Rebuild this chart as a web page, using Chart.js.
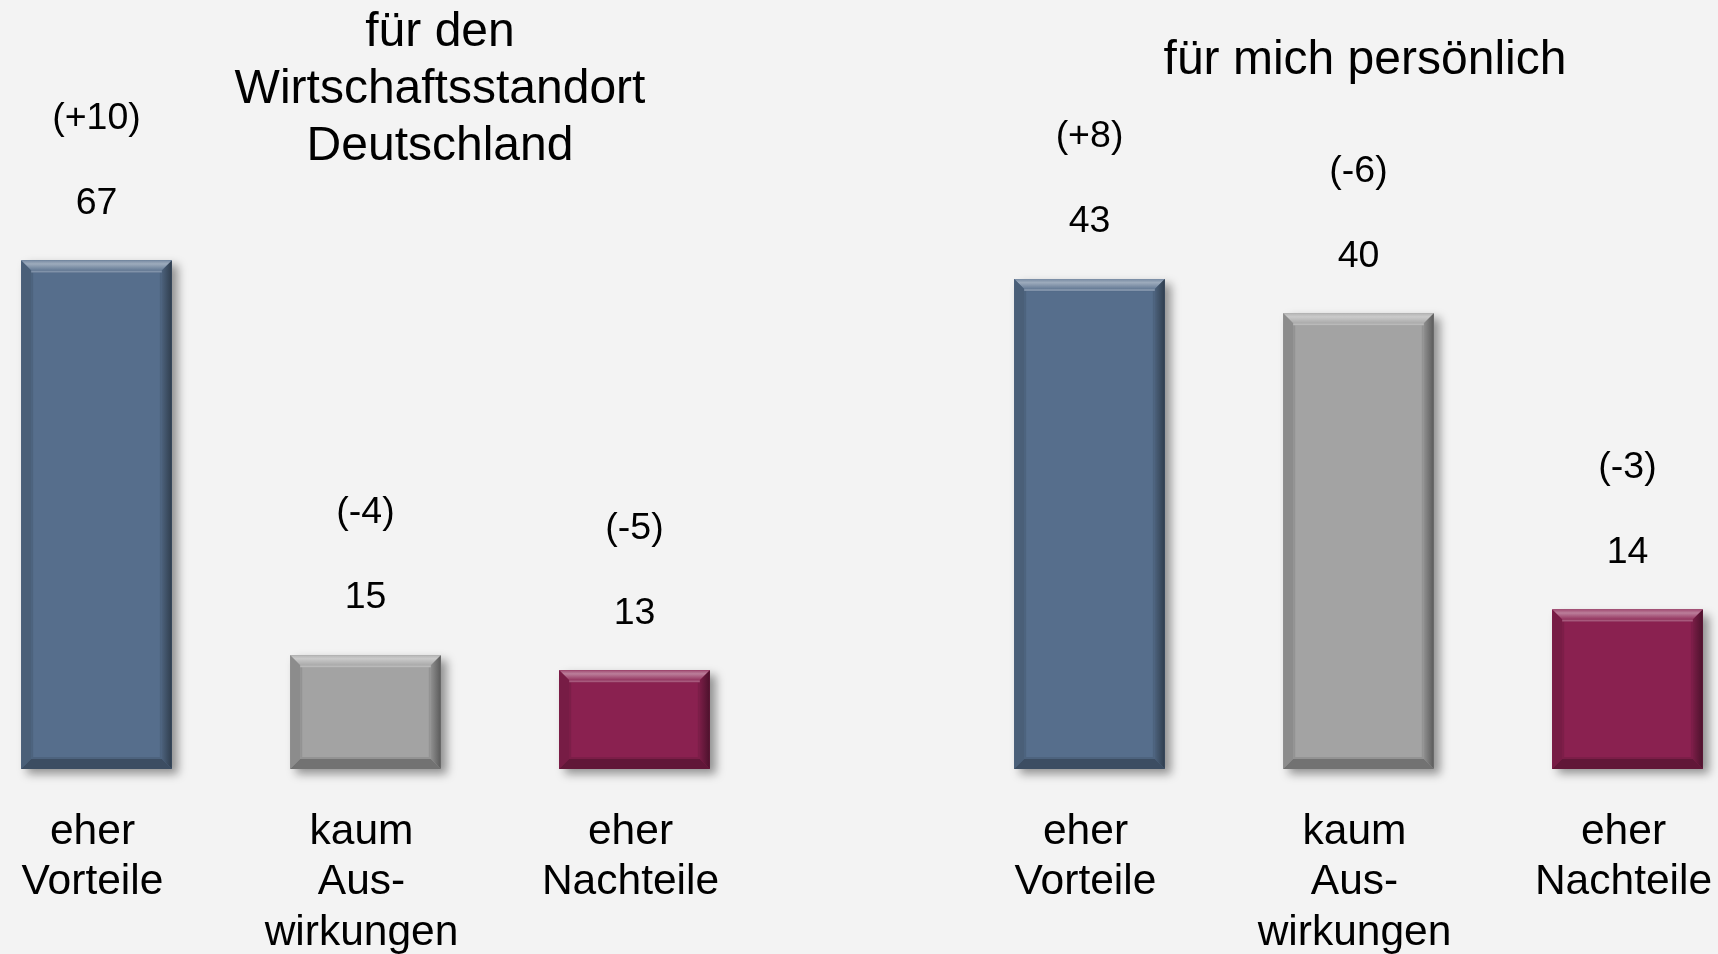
<!DOCTYPE html>
<html lang="de">
<head>
<meta charset="utf-8">
<title>Vorteile / Nachteile</title>
<script src="https://cdn.jsdelivr.net/npm/chart.js@4.4.1/dist/chart.umd.min.js"></script>
<style>
html, body {
    margin: 0;
    padding: 0;
    width: 1718px;
    height: 954px;
    overflow: hidden;
    background: #f3f3f3;
    font-family: "Liberation Sans", Arial, sans-serif;
}
body { position: relative; }
canvas { position: absolute; top: 0; }
#leftChart { left: -38px; }
#rightChart { left: 955px; }
.title {
    position: absolute;
    color: #000;
    font-size: 48px;
    line-height: 57px;
    text-align: center;
    white-space: nowrap;
    transform: translateX(-50%);
}
#leftTitle { left: 440px; top: 1px; }
#rightTitle { left: 1365px; top: 29px; }
</style>
</head>
<body>
<canvas id="leftChart" width="807" height="954"></canvas>
<canvas id="rightChart" width="807" height="954"></canvas>
<div class="title" id="leftTitle">für den<br>Wirtschaftsstandort<br>Deutschland</div>
<div class="title" id="rightTitle">für mich persönlich</div>

<script>
// Data
const categories = [['eher', 'Vorteile'], ['kaum', 'Aus-', 'wirkungen'], ['eher', 'Nachteile']];
const standortValues = [67, 15, 13];
const standortChanges = [10, -4, -5];
const persoenlichValues = [43, 40, 14];
const persoenlichChanges = [8, -6, -3];
const barColors = ['#566e8c', '#a3a3a3', '#8a2150'];

const FONT = '"Liberation Sans", Arial, sans-serif';

// mix a hex colour with white (amt > 0) or black (amt < 0)
function shade(hex, amt) {
    const n = parseInt(hex.slice(1), 16);
    let r = n >> 16, g = (n >> 8) & 255, b = n & 255;
    const t = amt < 0 ? 0 : 255, p = Math.abs(amt);
    r = Math.round(r + (t - r) * p);
    g = Math.round(g + (t - g) * p);
    b = Math.round(b + (t - b) * p);
    return 'rgb(' + r + ',' + g + ',' + b + ')';
}

function fmtChange(v) {
    return '(' + (v > 0 ? '+' : '') + v + ')';
}

function barBox(el) {
    const p = el.getProps(['x', 'y', 'base', 'width'], true);
    return { x0: p.x - p.width / 2, x1: p.x + p.width / 2, y0: p.y, y1: p.base, cx: p.x };
}

// soft shadow + bevelled edges like the PowerPoint bars
const bevelPlugin = {
    id: 'bevel',
    beforeDatasetsDraw(chart) {
        const ctx = chart.ctx;
        chart.getDatasetMeta(0).data.forEach((el, i) => {
            const b = barBox(el);
            ctx.save();
            ctx.shadowColor = 'rgba(0,0,0,0.4)';
            ctx.shadowBlur = 9;
            ctx.shadowOffsetX = 6;
            ctx.shadowOffsetY = 5;
            ctx.fillStyle = barColors[i];
            ctx.fillRect(b.x0, b.y0, b.x1 - b.x0, b.y1 - b.y0);
            ctx.restore();
        });
    },
    afterDatasetsDraw(chart) {
        const ctx = chart.ctx;
        const d = 10;
        chart.getDatasetMeta(0).data.forEach((el, i) => {
            const { x0, x1, y0, y1 } = barBox(el);
            const c = barColors[i];
            const poly = (pts, fill) => {
                ctx.beginPath();
                ctx.moveTo(pts[0][0], pts[0][1]);
                for (let k = 1; k < pts.length; k++) ctx.lineTo(pts[k][0], pts[k][1]);
                ctx.closePath();
                ctx.fillStyle = fill;
                ctx.fill();
            };
            ctx.save();
            // top
            const gTop = ctx.createLinearGradient(0, y0, 0, y0 + d);
            gTop.addColorStop(0, shade(c, 0.2));
            gTop.addColorStop(0.35, shade(c, 0.42));
            gTop.addColorStop(1, shade(c, 0.08));
            poly([[x0, y0], [x1, y0], [x1 - d, y0 + d], [x0 + d, y0 + d]], gTop);
            // left
            poly([[x0, y0], [x0 + d, y0 + d], [x0 + d, y1 - d], [x0, y1]], shade(c, -0.14));
            // right
            const gRight = ctx.createLinearGradient(x1 - d, 0, x1, 0);
            gRight.addColorStop(0, shade(c, -0.12));
            gRight.addColorStop(1, shade(c, -0.45));
            poly([[x1, y0], [x1, y1], [x1 - d, y1 - d], [x1 - d, y0 + d]], gRight);
            // bottom
            poly([[x0, y1], [x0 + d, y1 - d], [x1 - d, y1 - d], [x1, y1]], shade(c, -0.3));
            // inner frame
            ctx.lineWidth = 2;
            ctx.strokeStyle = shade(c, -0.1);
            ctx.strokeRect(x0 + d + 1, y0 + d + 1, x1 - x0 - 2 * d - 2, y1 - y0 - 2 * d - 2);
            ctx.beginPath();
            ctx.moveTo(x0 + d, y0 + d + 1);
            ctx.lineTo(x1 - d, y0 + d + 1);
            ctx.strokeStyle = shade(c, 0.25);
            ctx.stroke();
            ctx.restore();
        });
    }
};

function labelPlugin(values, changes) {
    return {
        id: 'barLabels',
        afterDraw(chart) {
            const ctx = chart.ctx;
            const xs = chart.scales.x;
            const bottom = chart.chartArea.bottom;
            ctx.save();
            ctx.fillStyle = '#000';
            ctx.textAlign = 'center';
            ctx.textBaseline = 'middle';
            chart.getDatasetMeta(0).data.forEach((el, i) => {
                const b = barBox(el);
                ctx.font = '37.5px ' + FONT;
                ctx.fillText(String(values[i]), b.cx, b.y0 - 57);
                ctx.fillText(fmtChange(changes[i]), b.cx, b.y0 - 142);
            });
            ctx.font = '42.5px ' + FONT;
            categories.forEach((lines, i) => {
                const x = xs.getPixelForValue(i) - 4;
                lines.forEach((t, k) => ctx.fillText(t, x, bottom + 63 + k * 50.5));
            });
            ctx.restore();
        }
    };
}

function makeChart(id, values, changes, yMax) {
    return new Chart(document.getElementById(id).getContext('2d'), {
        type: 'bar',
        data: {
            labels: categories,
            datasets: [{
                data: values,
                backgroundColor: barColors,
                borderWidth: 0,
                barPercentage: 0.56,
                categoryPercentage: 1
            }]
        },
        options: {
            responsive: false,
            animation: false,
            layout: { padding: { top: 0, right: 0, bottom: 185, left: 0 } },
            scales: {
                x: { display: false },
                y: { display: false, min: 0, max: yMax }
            },
            plugins: {
                legend: { display: false },
                tooltip: { enabled: false }
            }
        },
        plugins: [bevelPlugin, labelPlugin(values, changes)]
    });
}

makeChart('leftChart', standortValues, standortChanges, 101.3);
makeChart('rightChart', persoenlichValues, persoenlichChanges, 67.5);
</script>
</body>
</html>
